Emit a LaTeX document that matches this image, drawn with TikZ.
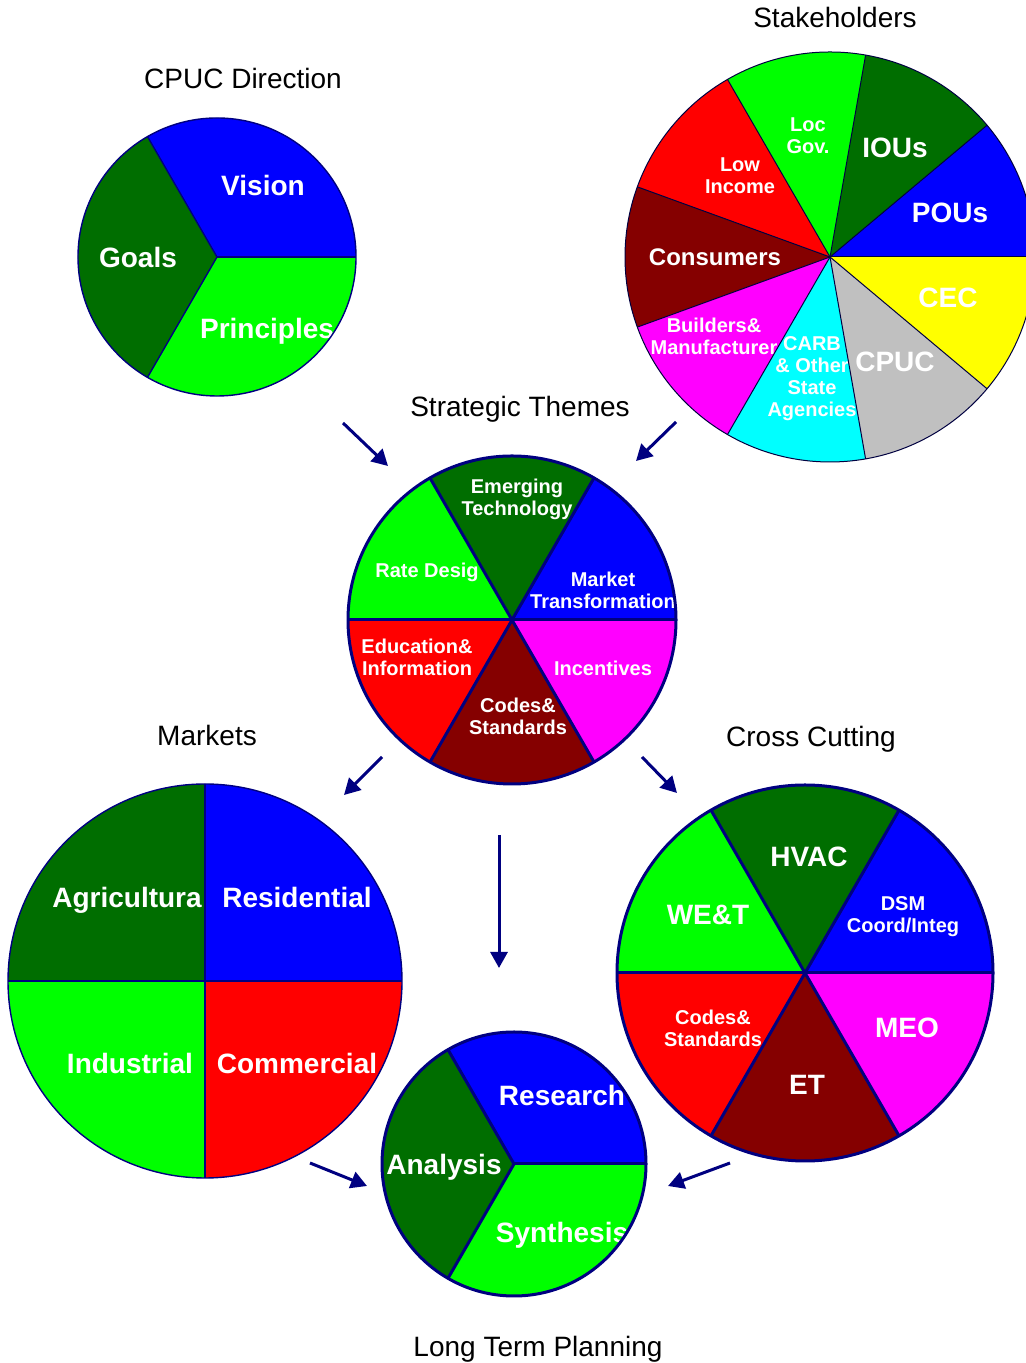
\documentclass[tikz,border=0pt]{standalone}
\usepackage{fontspec}
\setmainfont{Liberation Sans}
\usepackage{xcolor}
\usetikzlibrary{calc, arrows.meta}

\definecolor{pieblue}{HTML}{0000FF}
\definecolor{piedark}{HTML}{006E00}
\definecolor{piegreen}{HTML}{00FF00}
\definecolor{piered}{HTML}{FF0000}
\definecolor{piemaroon}{HTML}{850000}
\definecolor{piemagenta}{HTML}{FF00FF}
\definecolor{piecyan}{HTML}{00FFFF}
\definecolor{piegray}{HTML}{C0C0C0}
\definecolor{pieyellow}{HTML}{FFFF00}
\definecolor{pienavy}{HTML}{000080}

\begin{document}
\begin{tikzpicture}[x=0.5pt, y=0.5pt,
    title/.style={font=\fontsize{14}{16}\selectfont, text depth=0pt},
    lbl/.style={text=white, inner sep=0pt, align=center, text depth=0pt,
        font=\bfseries\fontsize{#1}{11}\selectfont},
    hairpie/.style={draw=pienavy!50!black, line width=0.5pt},
    thinpie/.style={draw=pienavy, line width=0.7pt},
    thickpie/.style={draw=pienavy, line width=1.5pt},
    flow/.style={-{Triangle[length=8pt, width=8.5pt]}, draw=pienavy, line width=1.5pt}]

    % --- Frame ---
    \useasboundingbox (0,0) rectangle (1026,1363);

    % --- Pie centres ---
    \coordinate (dir) at (217,1106);
    \coordinate (stake) at (830,1106);
    \coordinate (themes) at (512,743);
    \coordinate (mkt) at (205,382);
    \coordinate (cross) at (805,390);
    \coordinate (ltp) at (514,199);

    % --- CPUC Direction ---
    \node[title] (dirtitle) at (243,1285) {CPUC Direction};
    \foreach \a/\b/\col/\dx/\dy/\fs/\txt in {0/120/pieblue/46/72/14/Vision,
        120/240/piedark/-79/0/14/Goals, 240/360/piegreen/50/-71/14/Principles} {
        \begin{scope}
            \clip (dir) -- ++(\a:139) arc (\a:\b:139) -- cycle;
            \fill[fill=\col] (dir) -- ++(\a:139) arc (\a:\b:139) -- cycle;
            \node[lbl=\fs] (dir-\a) at ($(dir)+(\dx,\dy)$) {\txt};
        \end{scope}
    }
    \draw[thinpie] (dir) circle (139);
    \foreach \a in {0,120,240} \draw[thinpie] (dir) -- ++(\a:139);

    % --- Stakeholders ---
    \node[title] (staketitle) at (835,1346) {Stakeholders};
    \foreach \a/\b/\col/\dx/\dy/\fs/\txt in {0/40/pieblue/120/44/14/POUs,
        40/80/piedark/65/109/14/IOUs, 80/120/piegreen/-22/121/10/Loc\\Gov.,
        120/160/piered/-90/81/10/Low\\Income, 160/200/piemaroon/-115/0/12/Consumers,
        200/240/piemagenta/-116/-79/10/Builders\&\\Manufacturer,
        240/280/piecyan/-18/-120/10/CARB\\\& Other\\State\\Agencies,
        280/320/piegray/65/-105/14/CPUC, 320/360/pieyellow/118/-41/14/CEC} {
        \begin{scope}
            \clip (stake) -- ++(\a:205) arc (\a:\b:205) -- cycle;
            \fill[fill=\col] (stake) -- ++(\a:205) arc (\a:\b:205) -- cycle;
            \node[lbl=\fs] (stake-\a) at ($(stake)+(\dx,\dy)$) {\txt};
        \end{scope}
    }
    \draw[hairpie] (stake) circle (205);
    \foreach \a in {0,40,...,320} \draw[hairpie] (stake) -- ++(\a:205);

    % --- Strategic Themes ---
    \node[title] (themestitle) at (520,957) {Strategic Themes};
    \foreach \a/\b/\col/\dx/\dy/\fs/\txt in {0/60/pieblue/91/30/10/Market\\Transformation,
        60/120/piedark/5/123/10/Emerging\\Technology, 120/180/piegreen/-85/50/10/Rate Desig,
        180/240/piered/-95/-37/10/Education\&\\Information,
        240/300/piemaroon/6/-96/10/Codes\&\\Standards, 300/360/piemagenta/91/-48/10/Incentives} {
        \begin{scope}
            \clip (themes) -- ++(\a:164) arc (\a:\b:164) -- cycle;
            \fill[fill=\col] (themes) -- ++(\a:164) arc (\a:\b:164) -- cycle;
            \node[lbl=\fs] (themes-\a) at ($(themes)+(\dx,\dy)$) {\txt};
        \end{scope}
    }
    \draw[thickpie] (themes) circle (164);
    \foreach \a in {0,60,...,300} \draw[thickpie] (themes) -- ++(\a:164);

    % --- Markets ---
    \node[title] (mkttitle) at (207,628) {Markets};
    \foreach \a/\b/\col/\dx/\dy/\fs/\txt in {0/90/pieblue/92/84/14/Residential,
        90/180/piedark/-78/84/14/Agricultura, 180/270/piegreen/-75/-82/14/Industrial,
        270/360/piered/92/-82/14/Commercial} {
        \begin{scope}
            \clip (mkt) -- ++(\a:197) arc (\a:\b:197) -- cycle;
            \fill[fill=\col] (mkt) -- ++(\a:197) arc (\a:\b:197) -- cycle;
            \node[lbl=\fs] (mkt-\a) at ($(mkt)+(\dx,\dy)$) {\txt};
        \end{scope}
    }
    \draw[thinpie] (mkt) circle (197);
    \foreach \a in {0,90,180,270} \draw[thinpie] (mkt) -- ++(\a:197);

    % --- Cross Cutting ---
    \node[title] (crosstitle) at (811,627) {Cross Cutting};
    \foreach \a/\b/\col/\dx/\dy/\fs/\txt in {0/60/pieblue/98/58/10/{DSM\\Coord/Integ},
        60/120/piedark/4/116/14/HVAC, 120/180/piegreen/-97/58/14/WE\&T,
        180/240/piered/-92/-55/10/Codes\&\\Standards, 240/300/piemaroon/2/-112/14/ET,
        300/360/piemagenta/102/-55/14/MEO} {
        \begin{scope}
            \clip (cross) -- ++(\a:188) arc (\a:\b:188) -- cycle;
            \fill[fill=\col] (cross) -- ++(\a:188) arc (\a:\b:188) -- cycle;
            \node[lbl=\fs] (cross-\a) at ($(cross)+(\dx,\dy)$) {\txt};
        \end{scope}
    }
    \draw[thickpie] (cross) circle (188);
    \foreach \a in {0,60,...,300} \draw[thickpie] (cross) -- ++(\a:188);

    % --- Long Term Planning ---
    \node[title] (ltptitle) at (538,17) {Long Term Planning};
    \foreach \a/\b/\col/\dx/\dy/\fs/\txt in {0/120/pieblue/48/69/14/Research,
        120/240/piedark/-70/0/14/Analysis, 240/360/piegreen/48/-68/14/Synthesis} {
        \begin{scope}
            \clip (ltp) -- ++(\a:132) arc (\a:\b:132) -- cycle;
            \fill[fill=\col] (ltp) -- ++(\a:132) arc (\a:\b:132) -- cycle;
            \node[lbl=\fs] (ltp-\a) at ($(ltp)+(\dx,\dy)$) {\txt};
        \end{scope}
    }
    \draw[thickpie] (ltp) circle (132);
    \foreach \a in {0,120,240} \draw[thickpie] (ltp) -- ++(\a:132);

    % --- Arrows ---
    \coordinate (dir-out) at (343,940);   \coordinate (themes-in1) at (388,897);
    \coordinate (stake-out) at (676,941); \coordinate (themes-in2) at (636,902);
    \coordinate (themes-out1) at (382,606); \coordinate (mkt-in) at (344,568);
    \coordinate (themes-out2) at (642,606); \coordinate (cross-in) at (677,570);
    \coordinate (themes-out3) at (499,528); \coordinate (ltp-in1) at (499,395);
    \coordinate (mkt-out) at (310,200);   \coordinate (ltp-in2) at (367,177);
    \coordinate (cross-out) at (730,200); \coordinate (ltp-in3) at (668,177);

    \draw[flow] (dir-out) -- (themes-in1);
    \draw[flow] (stake-out) -- (themes-in2);
    \draw[flow] (themes-out1) -- (mkt-in);
    \draw[flow] (themes-out2) -- (cross-in);
    \draw[flow] (themes-out3) -- (ltp-in1);
    \draw[flow] (mkt-out) -- (ltp-in2);
    \draw[flow] (cross-out) -- (ltp-in3);

\end{tikzpicture}
\end{document}
